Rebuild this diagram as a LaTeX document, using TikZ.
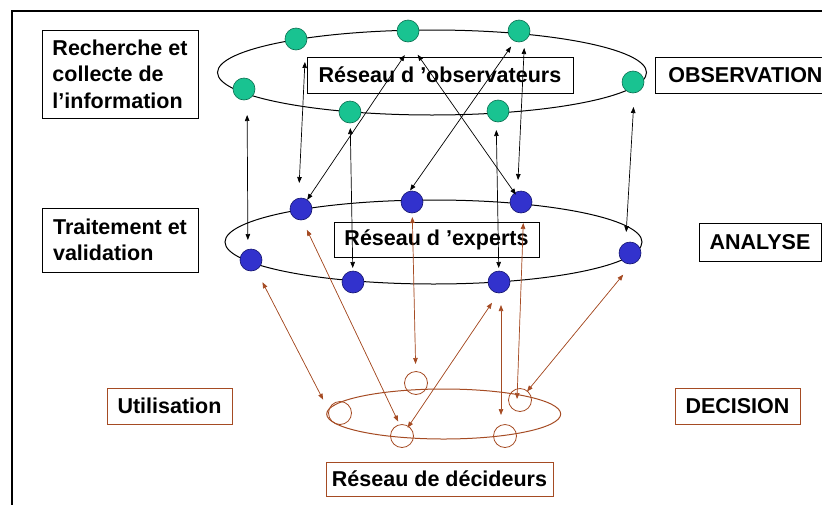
\documentclass[tikz,border=0pt]{standalone}
\usepackage{fontspec}
\setmainfont{Liberation Sans}
\usetikzlibrary{arrows.meta,shapes.geometric}
\definecolor{grn}{RGB}{25,195,145}
\definecolor{grnd}{RGB}{10,110,80}
\definecolor{blu}{RGB}{50,50,205}
\definecolor{blud}{RGB}{20,20,110}
\definecolor{brn}{RGB}{165,75,35}
\begin{document}
\begin{tikzpicture}[x=1pt,y=-1pt,
  lbl/.style={draw=black, line width=0.8pt, fill=white, font=\fontsize{21.5}{26.5}\selectfont\bfseries, inner sep=0pt, align=left},
  blbl/.style={lbl, draw=brn},
  obs/.style={circle, fill=grn, draw=grnd, line width=0.6pt, minimum size=22pt, inner sep=0pt},
  exp/.style={circle, fill=blu, draw=blud, line width=0.6pt, minimum size=22pt, inner sep=0pt},
  dec/.style={circle, draw=brn, line width=0.8pt, minimum size=23pt, inner sep=0pt},
  ring/.style={ellipse, draw, line width=1pt, inner sep=0pt},
  conn/.style={<->, >={Triangle[length=6pt,width=4.5pt]}, line width=0.7pt},
  bconn/.style={conn, draw=brn, fill=brn}
]
\useasboundingbox (0,0) rectangle (822,504);
\clip (0,0) rectangle (822,504);
\draw[line width=2.2pt] (12,520) -- (12,11) -- (840,11);

% rings
\node[ring, minimum width=429, minimum height=85] (E1) at (432,72.5) {};
\node[ring, minimum width=417, minimum height=84] (E2) at (433.5,242) {};
\node[ring, draw=brn, minimum width=234, minimum height=50] (E3) at (443.7,414) {};

% labels
\node[lbl, minimum width=156, minimum height=88] (rc) at (120,74) {Recherche et\\collecte de\\l’information};
\node[lbl, minimum width=266, minimum height=36] (ro) at (440,75) {Réseau d ’observateurs};
\node[lbl, anchor=west, minimum height=36, text width=170pt, inner xsep=13pt] (ob) at (655,75) {OBSERVATION};
\node[lbl, minimum width=156, minimum height=64] (tv) at (120,240) {Traitement et\\validation};
\node[lbl, minimum width=205, minimum height=35] (re) at (436.5,239.5) {Réseau d ’experts};
\node[lbl, minimum width=122, minimum height=38] (an) at (760,242) {ANALYSE};
\node[blbl, minimum width=125, minimum height=36] (ut) at (169.5,406) {Utilisation};
\node[blbl, minimum width=125, minimum height=36] (dc) at (737.5,406) {DECISION};
\node[blbl, minimum width=227, minimum height=34] (rd) at (439.5,479) {Réseau de décideurs};

% observers
\node[obs] (g1) at (296,39) {};
\node[obs] (g2) at (408,31) {};
\node[obs] (g3) at (519,31) {};
\node[obs] (g4) at (244,89) {};
\node[obs] (g5) at (350,112) {};
\node[obs] (g6) at (498,111) {};
\node[obs] (g7) at (633,82) {};
% experts
\node[exp] (b1) at (301,209) {};
\node[exp] (b2) at (412,202) {};
\node[exp] (b3) at (521,202) {};
\node[exp] (b4) at (251,260) {};
\node[exp] (b5) at (353,282) {};
\node[exp] (b6) at (499,282) {};
\node[exp] (b7) at (630,253) {};
% deciders
\node[dec] (d1) at (416,383) {};
\node[dec] (d2) at (340,413) {};
\node[dec] (d3) at (402,436) {};
\node[dec] (d4) at (520,400) {};
\node[dec] (d5) at (505,436) {};

% black connectors
\draw[conn, shorten <=26pt, shorten >=20pt] ([xshift=3pt]g4.center) -- ([xshift=-3pt]b4.center);
\draw[conn, shorten <=23pt, shorten >=26pt] ([xshift=10pt]g1.center) -- ([xshift=-3pt]b1.center);
\draw[conn, shorten <=11pt, shorten >=29pt] (b1.center) -- ([xshift=13pt]g2.center);
\draw[conn, shorten <=16pt, shorten >=14pt] (g5.center) -- (b5.center);
\draw[conn, shorten <=14pt, shorten >=19pt] ([xshift=-10pt]b2.center) -- ([xshift=3pt]g3.center);
\draw[conn, shorten <=29pt, shorten >=9pt] ([xshift=-7pt]g2.center) -- (b3.center);
\draw[conn, shorten <=17pt, shorten >=22pt] ([xshift=6pt]g3.center) -- ([xshift=-4pt]b3.center);
\draw[conn, shorten <=19pt, shorten >=14pt] ([xshift=-2pt]g6.center) -- (b6.center);
\draw[conn, shorten <=25pt, shorten >=21pt] ([xshift=2pt]g7.center) -- ([xshift=-5pt]b7.center);

% brown connectors
\draw[bconn, shorten <=25pt, shorten >=15pt] (b4.center) -- ([xshift=-10pt]d2.center);
\draw[bconn, shorten <=23pt, shorten >=16pt] ([xshift=-4pt]b1.center) -- ([xshift=3pt]d3.center);
\draw[bconn, shorten <=15pt, shorten >=19pt] (b2.center) -- (d1.center);
\draw[bconn, shorten <=25pt, shorten >=10pt] ([xshift=7pt]b6.center) -- (d3.center);
\draw[bconn, shorten <=23pt, shorten >=21pt] ([xshift=2pt]b6.center) -- ([xshift=-4pt]d5.center);
\draw[bconn, shorten <=21pt, shorten >=1pt] ([xshift=3pt]b3.center) -- ([xshift=-3pt]d4.center);
\draw[bconn, shorten <=28pt, shorten >=11pt] ([xshift=11pt]b7.center) -- (d4.center);
\end{tikzpicture}
\end{document}
